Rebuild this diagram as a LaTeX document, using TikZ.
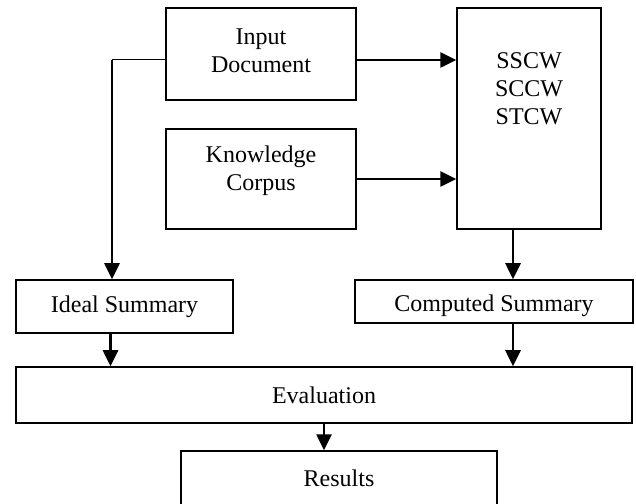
\documentclass[tikz,border=0pt]{standalone}
\usepackage{fontspec}
\setmainfont{Liberation Serif}
\usetikzlibrary{arrows.meta}

\begin{document}
\begin{tikzpicture}[x=1pt, y=1pt,
    blk/.style={draw, line width=1.5pt, inner sep=0pt},
    txt/.style={font=\fontsize{24}{28}\selectfont, align=center},
    arr/.style={line width=2.6pt, -{Triangle[length=16pt, width=15pt]}},
    feed/.style={line width=1pt},
]
\useasboundingbox (0,0) rectangle (636,503);
\clip (0,0) rectangle (636,503);

% top row
\node[blk, minimum width=190pt, minimum height=92pt,
      label={[txt, yshift=3pt]center:Input\\Document}] (input) at (261,449) {};
\node[blk, minimum width=190pt, minimum height=100pt,
      label={[txt, yshift=8pt]center:Knowledge\\Corpus}] (corpus) at (261,324) {};
\node[blk, minimum width=144pt, minimum height=221pt,
      label={[txt, yshift=30pt]center:SSCW\\SCCW\\STCW}] (words) at (529,384.5) {};

% summaries
\node[blk, txt, minimum width=217pt, minimum height=53pt] (ideal) at (124.5,196.5) {Ideal Summary};
\node[blk, minimum width=278pt, minimum height=43pt,
      label={[txt, yshift=-4pt]center:Computed Summary}] (computed) at (494,201.5) {};

% bottom
\node[blk, txt, minimum width=616pt, minimum height=56pt] (eval) at (324,108) {Evaluation};
\node[blk, txt, minimum width=316pt, minimum height=54pt] (results) at (339,25) {Results};

\coordinate (tap) at (112,443);

\draw[arr] ([yshift=-6pt]input.east) -- ([yshift=-6pt]input.east -| words.west);
\draw[arr] (corpus.east) -- (corpus.east -| words.west);
\draw[feed] ([yshift=-6pt]input.west) -- (tap);
\draw[arr] (tap) -- (tap |- ideal.north);
\draw[arr] ([xshift=-16pt]words.south) -- ([xshift=-16pt]words.south |- computed.north);
\draw[arr] ([xshift=-14pt]ideal.south) -- ([xshift=-14pt]ideal.south |- eval.north);
\draw[arr] ([xshift=19pt]computed.south) -- ([xshift=19pt]computed.south |- eval.north);
\draw[arr] (eval.south) -- (eval.south |- results.north);
\end{tikzpicture}
\end{document}
